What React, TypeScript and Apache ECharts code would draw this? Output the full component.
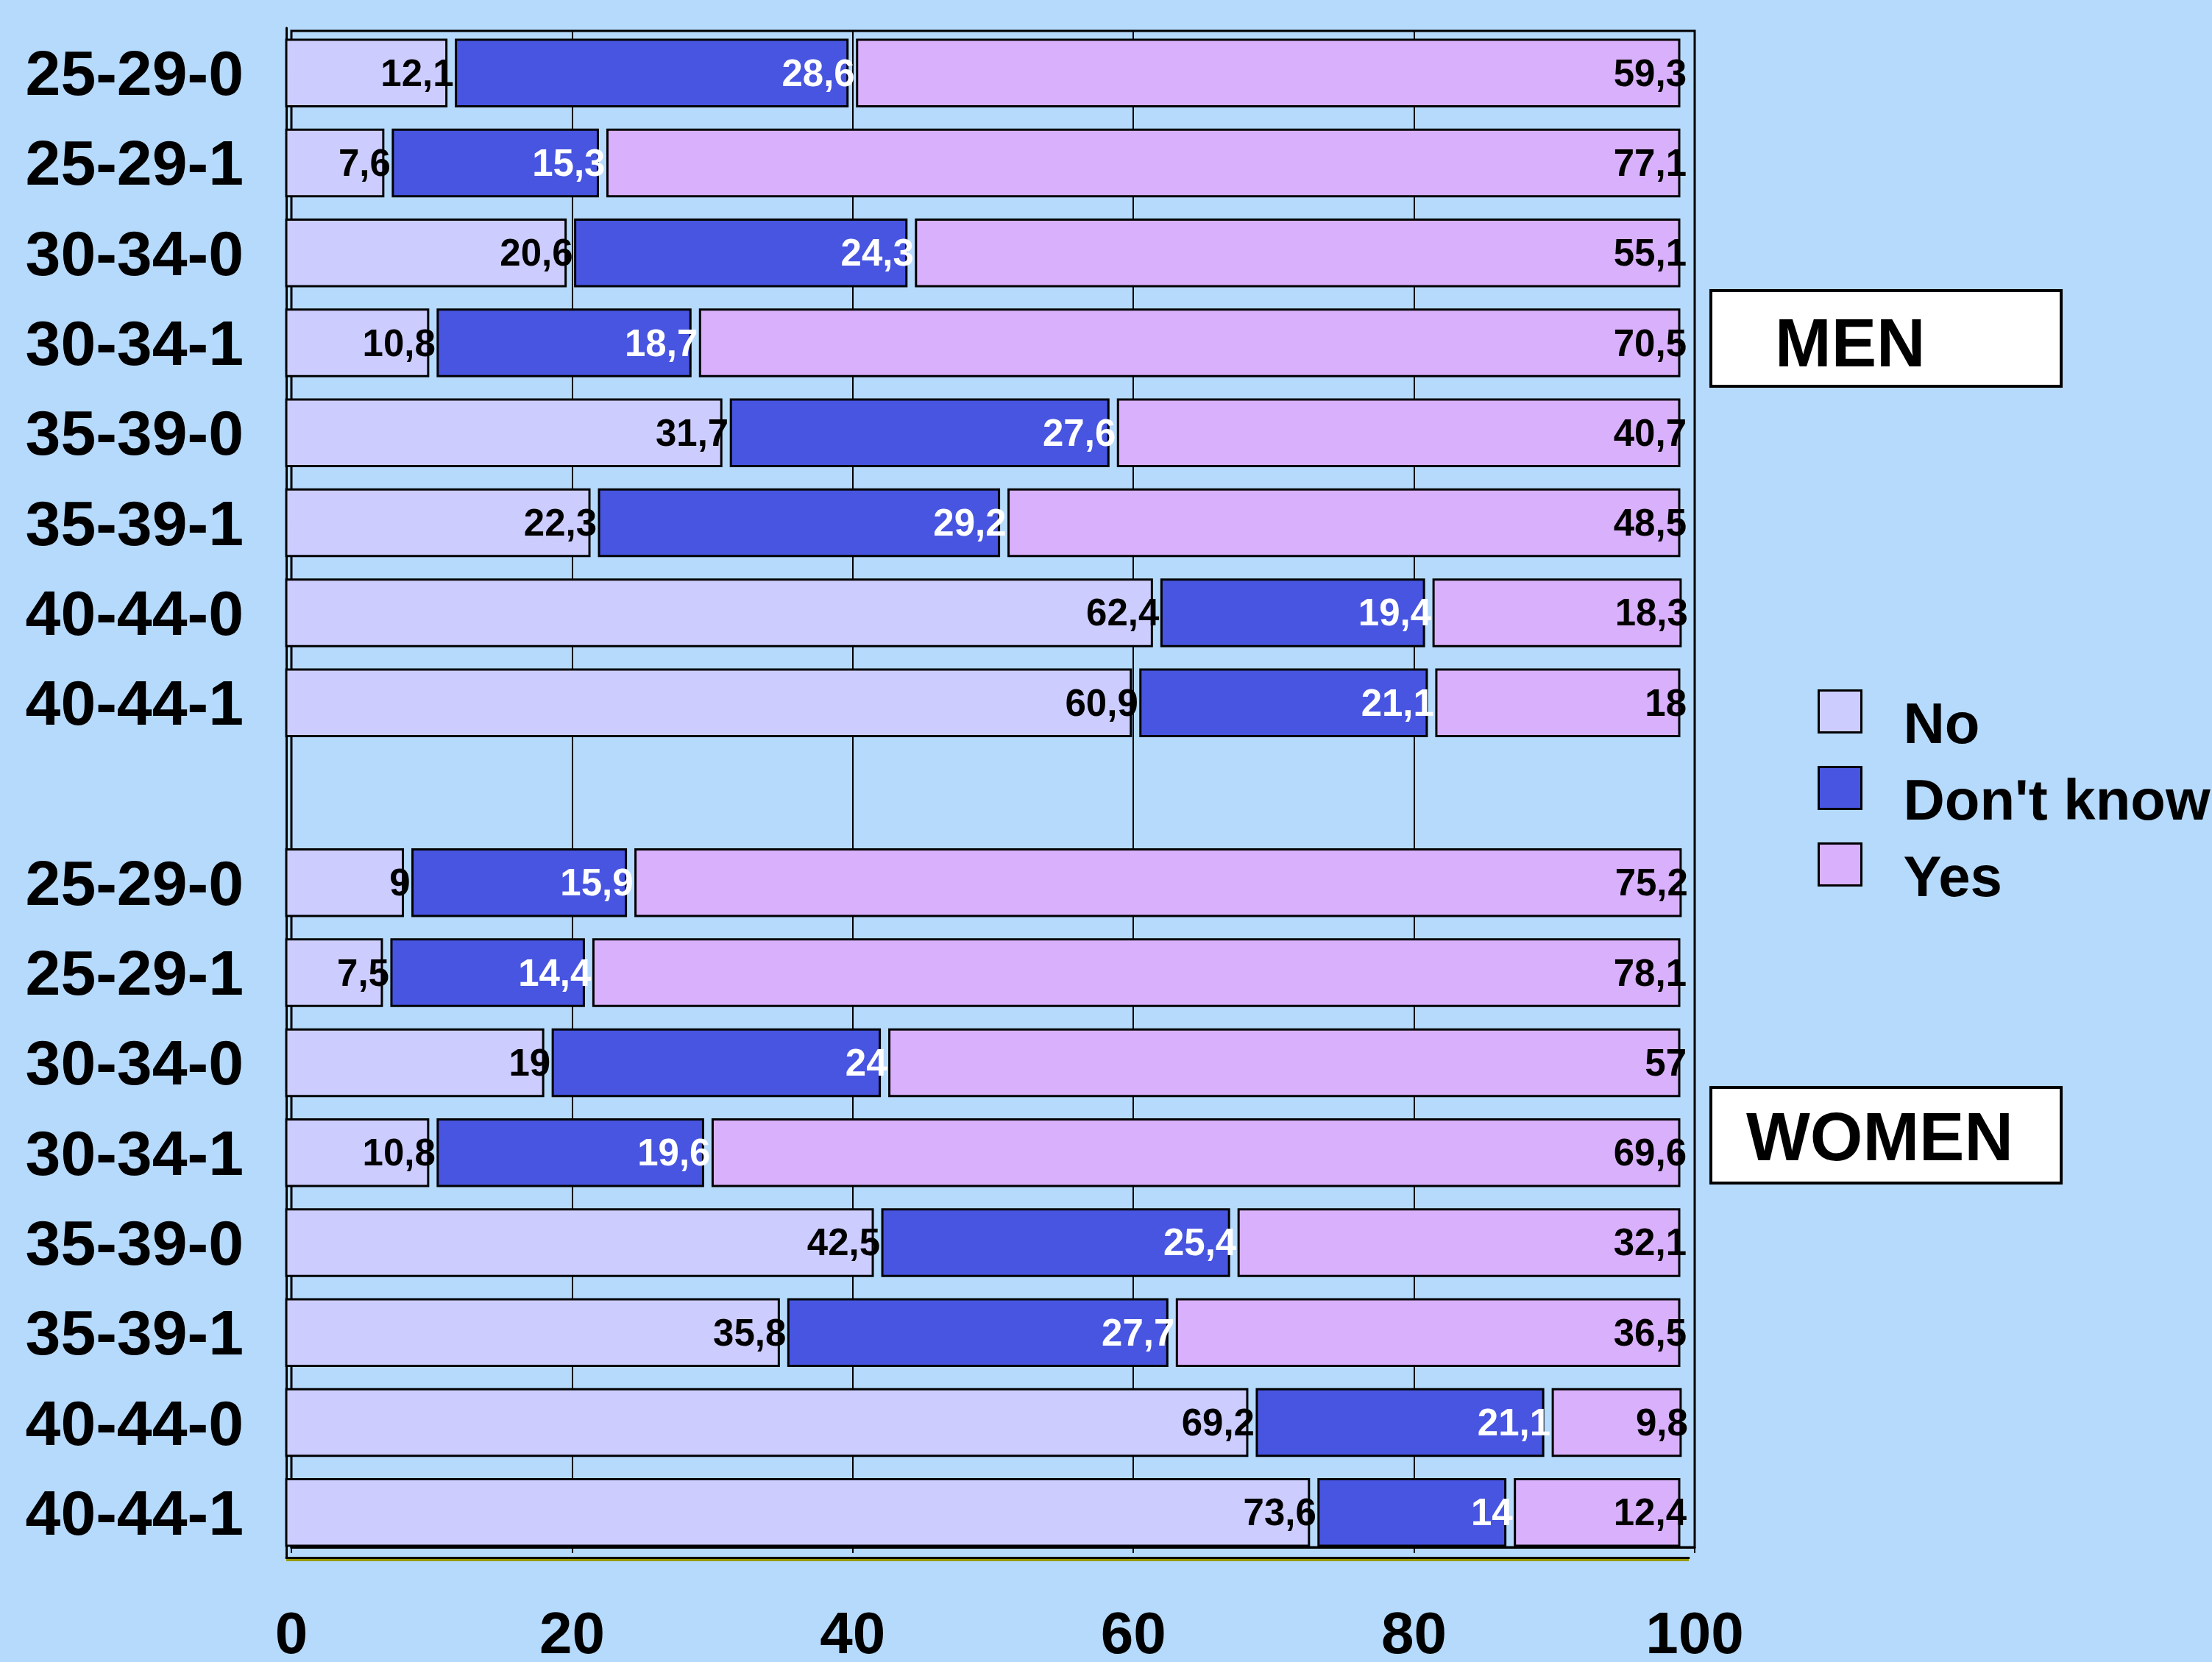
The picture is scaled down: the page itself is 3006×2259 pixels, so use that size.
import React, { useEffect, useRef } from "react";
import * as echarts from "echarts";

const W = 3006;
const H = 2259;
const FONT = '"Liberation Sans", Arial, sans-serif';

const groupCats = ["25-29-0", "25-29-1", "30-34-0", "30-34-1", "35-39-0", "35-39-1", "40-44-0", "40-44-1"];
const categories = [...groupCats, "", ...groupCats];

const seriesNames = ["No", "Don't know", "Yes"];
const noValues = [12.1, 7.6, 20.6, 10.8, 31.7, 22.3, 62.4, 60.9, null, 9, 7.5, 19, 10.8, 42.5, 35.8, 69.2, 73.6];
const dkValues = [28.6, 15.3, 24.3, 18.7, 27.6, 29.2, 19.4, 21.1, null, 15.9, 14.4, 24, 19.6, 25.4, 27.7, 21.1, 14];
const yesValues = [59.3, 77.1, 55.1, 70.5, 40.7, 48.5, 18.3, 18, null, 75.2, 78.1, 57, 69.6, 32.1, 36.5, 9.8, 12.4];

const xMin = 0;
const xMax = 100;
const xStep = 20;

const BG = "#b6dafc";
const colors = ["#cccdfe", "#4755e0", "#d9b0fb"];
const labelColors = ["#000", "#fff", "#000"];
const GAP = 13;

function fmt(v: number) {
  return String(v).replace(".", ",");
}

export default function App() {
  const ref = useRef<HTMLDivElement>(null);
  useEffect(() => {
    document.body.style.margin = "0";
    const chart = echarts.init(ref.current!, null, { renderer: "svg" });
    const all = [noValues, dkValues, yesValues];
    const seriesData: any[][] = [[], [], []];
    categories.forEach((_, i) => {
      let acc = 0;
      for (let k = 0; k < 3; k++) {
        const v = all[k][i];
        if (v == null) continue;
        seriesData[k].push([i, acc, acc + v, v]);
        acc += v;
      }
    });

    const series = seriesNames.map((name, k) => ({
      type: "custom",
      name,
      xAxisIndex: 0,
      yAxisIndex: 0,
      dimensions: ["cat", "start", "end", "val"],
      encode: { x: ["start", "end"], y: "cat" },
      itemStyle: { color: colors[k], borderColor: "#000", borderWidth: 3 },
      z: 3 + k,
      data: seriesData[k],
      renderItem: (params: any, api: any) => {
        const cat = api.value(0);
        const s = api.value(1);
        const e = api.value(2);
        const v = api.value(3);
        const p0 = api.coord([s, cat]);
        const p1 = api.coord([e, cat]);
        const h = api.size([0, 1])[1] * 0.74;
        return {
          type: "group",
          children: [
            {
              type: "rect",
              shape: { x: p0[0], y: p0[1] - h / 2, width: Math.max(p1[0] - p0[0] - GAP, 1), height: h },
              style: { fill: colors[k], stroke: "#000", lineWidth: 3 },
            },
            {
              type: "text",
              z2: 10,
              style: {
                text: fmt(v),
                x: p1[0] - 3,
                y: p0[1],
                align: "right",
                verticalAlign: "middle",
                fill: labelColors[k],
                fontSize: 51,
                fontWeight: "bold",
                fontFamily: FONT,
              },
            },
          ],
        };
      },
    }));

    chart.setOption({
      animation: false,
      backgroundColor: BG,
      grid: [
        { left: 389, right: W - 2295, top: 38, bottom: H - 2117 },
        { left: 396, right: W - 2303, top: 42, bottom: H - 2124, show: true, borderColor: "#000", borderWidth: 3, backgroundColor: "transparent" },
      ],
      xAxis: [
        {
          gridIndex: 0,
          type: "value",
          min: xMin,
          max: xMax,
          interval: xStep,
          axisLine: { show: true, lineStyle: { color: "#000", width: 3 } },
          axisTick: { show: false },
          axisLabel: { show: false },
          splitLine: { show: false },
        },
        {
          gridIndex: 1,
          type: "value",
          min: xMin,
          max: xMax,
          interval: xStep,
          axisLine: { show: true, lineStyle: { color: "#000", width: 3 } },
          axisTick: { show: true, length: 8, lineStyle: { color: "#000", width: 2 } },
          axisLabel: { show: true, margin: 76, fontSize: 80, fontWeight: "bold", color: "#000", fontFamily: FONT },
          splitLine: { show: true, lineStyle: { color: "#000", width: 2 } },
        },
      ],
      yAxis: [
        {
          gridIndex: 0,
          type: "category",
          inverse: true,
          data: categories,
          axisLine: { show: true, lineStyle: { color: "#000", width: 3 } },
          axisTick: { show: false },
          axisLabel: { margin: 58, fontSize: 86, fontWeight: "bold", color: "#000", fontFamily: FONT },
          splitLine: { show: false },
        },
        { gridIndex: 1, type: "value", show: false, min: 0, max: 1 },
      ],
      legend: {
        orient: "vertical",
        left: 2465,
        top: 907,
        icon: "rect",
        itemWidth: 58,
        itemHeight: 57,
        itemGap: -6,
        itemStyle: { borderColor: "#000", borderWidth: 3 },
        formatter: "{t|{name}}",
        textStyle: {
          color: "#000",
          rich: {
            t: { fontSize: 78, fontWeight: "bold", color: "#000", fontFamily: FONT, lineHeight: 40, padding: [32, 0, 0, 52] },
          },
        },
        data: seriesNames.map((n, k) => ({ name: n, itemStyle: { color: colors[k], borderColor: "#000", borderWidth: 3 } })),
      },
      graphic: [
        { type: "line", shape: { x1: 389, y1: 2120.5, x2: 2295, y2: 2120.5 }, style: { stroke: "#999900", lineWidth: 3 }, z: 1 },
        { type: "rect", shape: { x: 2325, y: 395, width: 476, height: 130 }, style: { fill: "#fff", stroke: "#000", lineWidth: 4 } },
        { type: "text", style: { text: "MEN", x: 2412, y: 466, verticalAlign: "middle", fontSize: 92, fontWeight: "bold", fill: "#000", fontFamily: FONT } },
        { type: "rect", shape: { x: 2325, y: 1478, width: 476, height: 130 }, style: { fill: "#fff", stroke: "#000", lineWidth: 4 } },
        { type: "text", style: { text: "WOMEN", x: 2373, y: 1545, verticalAlign: "middle", fontSize: 92, fontWeight: "bold", fill: "#000", fontFamily: FONT } },
      ],
      series,
    });
    return () => chart.dispose();
  }, []);
  return <div ref={ref} style={{ width: W, height: H, background: BG }} />;
}
